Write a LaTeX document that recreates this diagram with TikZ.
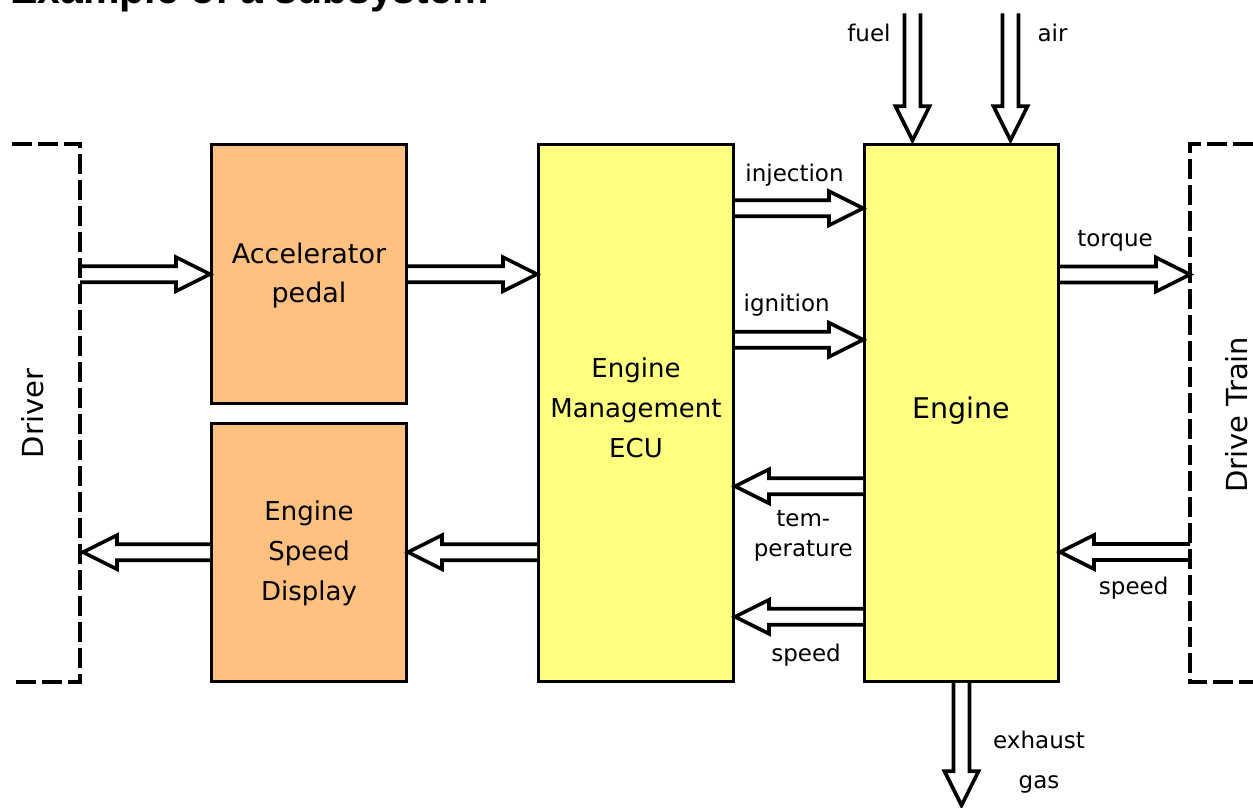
\documentclass[tikz,border=0pt]{standalone}
\usepackage{fontspec}
\setmainfont{DejaVu Sans}
\newfontfamily\titlefont{Liberation Sans}
\usetikzlibrary{calc}

\definecolor{pedalorange}{RGB}{255,192,128}
\definecolor{ecuyellow}{RGB}{255,255,128}

% hollow block arrow from #1 (open tail) to #2 (tip)
\newcommand\fatarrow[2]{%
  \coordinate (fanck) at ($(#2)!34pt!(#1)$);
  \draw[fatarrow] ($(#1)!8pt!90:(#2)$) -- ($(fanck)!8pt!90:(#2)$)
    -- ($(fanck)!17pt!90:(#2)$) -- (#2) -- ($(fanck)!17pt!-90:(#2)$)
    -- ($(fanck)!8pt!-90:(#2)$) -- ($(#1)!8pt!-90:(#2)$);
}

\tikzset{
  block/.style={draw=black, line width=3pt, inner sep=0pt, minimum width=195pt},
  pedalbox/.style={block, fill=pedalorange, minimum height=259pt},
  unitbox/.style={block, fill=ecuyellow, minimum height=536.5pt},
  fatarrow/.style={draw=black, fill=white, line width=3.6pt, line join=miter, miter limit=10},
  bracket/.style={draw=black, line width=3.3pt, dash pattern=on 20pt off 6pt},
  boxtxt/.style={align=center, inner sep=0pt, font=\fontsize{26}{40}\selectfont},
  sigtxt/.style={anchor=base, inner sep=0pt, font=\fontsize{23}{27}\selectfont},
  sidetxt/.style={rotate=90, inner sep=0pt, font=\fontsize{29}{35}\selectfont},
}

\begin{document}
\begin{tikzpicture}[x=1pt, y=-1pt]
\useasboundingbox (0,0) rectangle (1253,807);

% title
\node[anchor=base west, inner sep=0pt, font=\titlefont\bfseries\fontsize{41}{41}\selectfont]
  (title) at (10,3) {Example of a subsystem};

% blocks
\node[pedalbox] (acc) at (309,274.2) {};
\node[pedalbox, minimum height=258pt] (esd) at (309,552.2) {};
\node[unitbox] (ecu) at (636,413) {};
\node[unitbox, minimum width=194pt] (eng) at (961.5,413) {};

\node[boxtxt, font=\fontsize{27}{39}\selectfont] (accT) at ([yshift=-1.4pt]acc.center) {Accelerator\\pedal};
\node[boxtxt] (esdT) at ([yshift=-1pt]esd.center) {Engine\\Speed\\Display};
\node[boxtxt] (ecuT) at ([yshift=5.7pt]ecu.center) {Engine\\Management\\ECU};
\node[boxtxt, font=\fontsize{28.5}{40}\selectfont] (engT) at ([yshift=2.5pt]eng.center) {Engine};

% environment boundaries
\coordinate (drv) at (80,413);
\coordinate (dt) at (1190,413);

% arrow end points
\coordinate (drvA) at (drv |- acc.west);
\coordinate (ecuA) at (ecu.west |- acc.east);
\coordinate (inj) at ([yshift=-65pt]ecu.north east);
\coordinate (injT) at (eng.west |- inj);
\coordinate (ign) at ([yshift=-196.5pt]ecu.north east);
\coordinate (ignT) at (eng.west |- ign);
\coordinate (tmp) at ([yshift=-343pt]eng.north west);
\coordinate (tmpT) at (ecu.east |- tmp);
\coordinate (spd) at ([yshift=-473.5pt]eng.north west);
\coordinate (spdT) at (ecu.east |- spd);
\coordinate (trq) at ([yshift=138.5pt]eng.east);
\coordinate (trqT) at (dt |- trq);
\coordinate (dtsT) at ([yshift=-139pt]eng.east);
\coordinate (dts) at (dt |- dtsT);
\coordinate (ecuD) at (ecu.west |- esd.east);
\coordinate (drvB) at (drv |- esd.west);
\coordinate (drvBT) at ([xshift=3pt]drvB);
\coordinate (fuelIn) at ([xshift=-49pt, yshift=130pt]eng.north);
\coordinate (fuelT) at ([xshift=-49pt, yshift=3pt]eng.north);
\coordinate (airIn) at ([xshift=49pt, yshift=130pt]eng.north);
\coordinate (airT) at ([xshift=49pt, yshift=3pt]eng.north);
\coordinate (exhT) at ([yshift=-122.5pt]eng.south);

% signal and energy flows
\fatarrow{drvA}{acc.west}
\fatarrow{acc.east}{ecuA}
\fatarrow{inj}{injT}
\fatarrow{ign}{ignT}
\fatarrow{tmp}{tmpT}
\fatarrow{spd}{spdT}
\fatarrow{trq}{trqT}
\fatarrow{dts}{dtsT}
\fatarrow{ecuD}{esd.east}
\fatarrow{esd.west}{drvBT}
\fatarrow{fuelIn}{fuelT}
\fatarrow{airIn}{airT}
\fatarrow{eng.south}{exhT}

% dashed boundaries of driver and drive train
\draw[bracket] (12,144) -- (80,144) -- (80,682) -- (12,682);
\draw[bracket] (1253,144) -- (1190,144) -- (1190,682) -- (1253,682);

\node[sidetxt] (driverT) at (32.5,413.6) {Driver};
\node[sidetxt] (dtT) at (1237,414.7) {Drive Train};

% flow labels
\node[sigtxt] (injL) at (794.5,181) {injection};
\node[sigtxt] (ignL) at (786.7,311) {ignition};
\node[sigtxt] (trqL) at (1115,246) {torque};
\node[sigtxt] (tmpL1) at (803.3,526.7) {tem-};
\node[sigtxt] (tmpL2) at (803.3,556.7) {perature};
\node[sigtxt] (spdL) at (806,661.7) {speed};
\node[sigtxt] (dtsL) at (1133.7,594.2) {speed};
\node[sigtxt] (exhL1) at (1039,748) {exhaust};
\node[sigtxt] (exhL2) at (1039,788) {gas};
\node[sigtxt] (fuelL) at (869,41) {fuel};
\node[sigtxt] (airL) at (1052.5,41) {air};
\end{tikzpicture}
\end{document}
